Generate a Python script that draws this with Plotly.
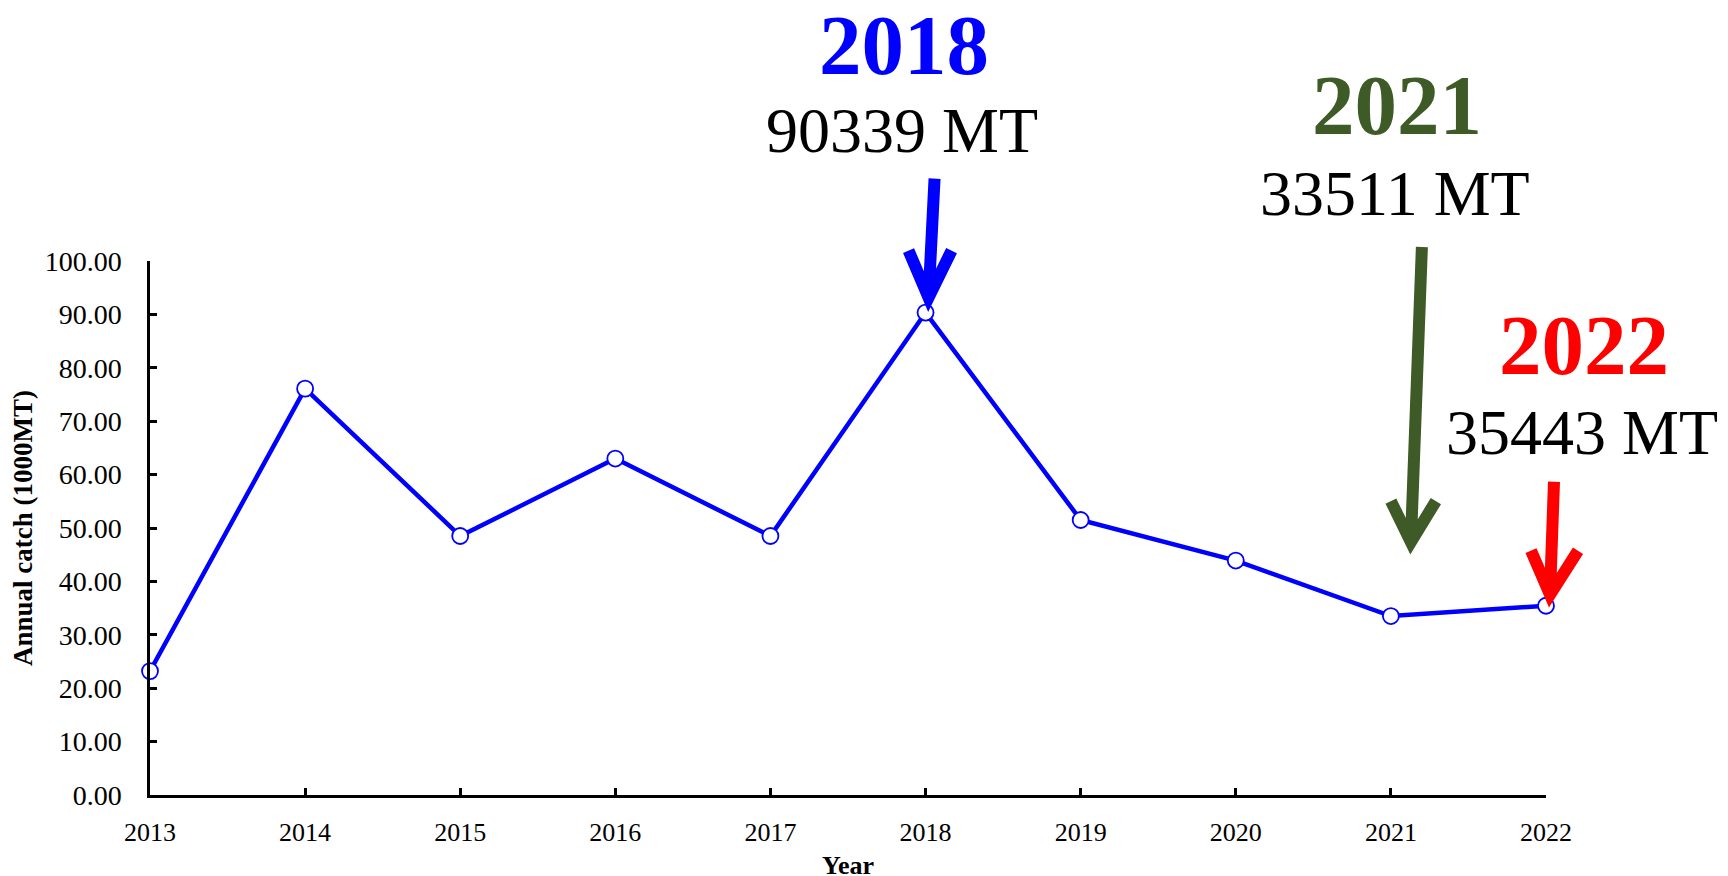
import plotly.graph_objects as go

years = [2013, 2014, 2015, 2016, 2017, 2018, 2019, 2020, 2021, 2022]
catch_1000mt = [23.2, 76.1, 48.5, 63.0, 48.5, 90.339, 51.5, 43.9, 33.511, 35.443]

highlight_years = [2018, 2021, 2022]
highlight_colors = ["#0000FF", "#3D5A27", "#FF0000"]
# pixel offsets (relative to the data point) for labels and arrows
label_shift = {2018: (-22, 268, 182), 2021: (6, 511, 423), 2022: (38, 261, 173)}
arrow_paths = {
    2018: "M 9,134 L 3,15 M -17,62 L 3,15 L 26,62",
    2021: "M 31,369 L 20,74 M 0,115 L 20,74 L 45,115",
    2022: "M 8,124 L 4,11 M -15,55 L 4,11 L 32,55",
}

X_RANGE = [years[0], years[-1]]
Y_RANGE = [0, 100]

FONT = "Liberation Serif, Times New Roman, serif"

fig = go.Figure()
fig.add_trace(go.Scatter(
    x=years, y=catch_1000mt, mode="lines+markers",
    line=dict(color="#0000FF", width=4.5),
    marker=dict(size=16, color="white", line=dict(color="#0000FF", width=1.8)),
    cliponaxis=False, showlegend=False,
))

annotations = []
shapes = []
for yr, col in zip(highlight_years, highlight_colors):
    v = catch_1000mt[years.index(yr)]
    dx, dy_year, dy_val = label_shift[yr]
    annotations.append(dict(x=yr, y=v, xref="x", yref="y", text="<b>%d</b>" % yr,
                            showarrow=False, xshift=dx, yshift=dy_year,
                            font=dict(family=FONT, size=85, color=col)))
    annotations.append(dict(x=yr, y=v, xref="x", yref="y", text="%d MT" % round(v * 1000),
                            showarrow=False, xshift=dx - 2, yshift=dy_val,
                            font=dict(family=FONT, size=64, color="black")))
    px = (yr - X_RANGE[0]) / (X_RANGE[1] - X_RANGE[0])
    py = (v - Y_RANGE[0]) / (Y_RANGE[1] - Y_RANGE[0])
    shapes.append(dict(type="path", xref="paper", yref="paper", xsizemode="pixel", ysizemode="pixel",
                       xanchor=px, yanchor=py, path=arrow_paths[yr],
                       line=dict(color=col, width=12), layer="above"))

# x-axis title placed as an annotation so it can sit at the very bottom like the reference
annotations.append(dict(x=0.5, y=0, xref="paper", yref="paper", text="<b>Year</b>",
                        showarrow=False, yshift=-70, yanchor="middle",
                        font=dict(family=FONT, size=26, color="black")))

fig.update_layout(
    width=1720, height=868,
    margin=dict(l=142, r=182, t=253, b=81),
    paper_bgcolor="white", plot_bgcolor="white",
    font=dict(family=FONT, color="black"),
    annotations=annotations, shapes=shapes,
    xaxis=dict(range=X_RANGE, dtick=1, tick0=2013, showgrid=False, zeroline=False,
               showline=True, linecolor="black", linewidth=2.5,
               ticks="inside", ticklen=7, tickwidth=2.5, tickcolor="black",
               ticklabelstandoff=12,
               tickfont=dict(family=FONT, size=26, color="black"),
               automargin=False),
    yaxis=dict(range=Y_RANGE, dtick=10, tickformat=".2f", showgrid=False, zeroline=False,
               showline=True, linecolor="black", linewidth=2.5,
               ticks="inside", ticklen=7, tickwidth=2.5, tickcolor="black",
               ticklabelstandoff=20,
               tickfont=dict(family=FONT, size=28, color="black"),
               title=dict(text="<b>Annual catch (1000MT)</b>", font=dict(family=FONT, size=27), standoff=6),
               automargin=False),
)

fig.write_html("out.html")
